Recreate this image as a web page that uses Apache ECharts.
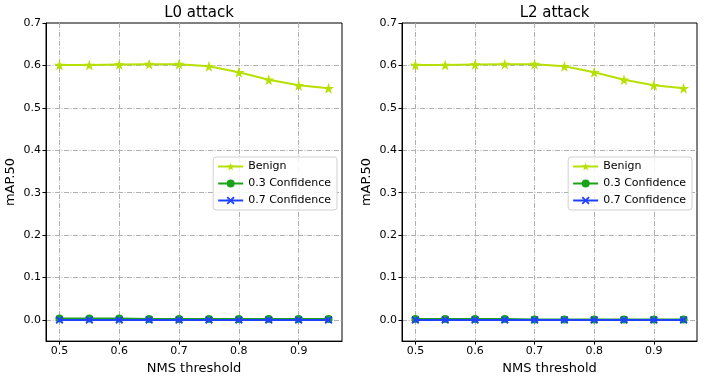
<!DOCTYPE html>
<html>
<head>
<meta charset="utf-8">
<script src="https://cdn.jsdelivr.net/npm/echarts@6/dist/echarts.min.js"></script>
<style>
  html, body { margin: 0; padding: 0; background: #fff; }
  #container { width: 706px; height: 380px; }
</style>
</head>
<body>
<div id="container"></div>
<script>
// NMS thresholds on the x axis
var thresholds = [0.5, 0.55, 0.6, 0.65, 0.7, 0.75, 0.8, 0.85, 0.9, 0.95];
var panelTitles = ['L0 attack', 'L2 attack'];
var seriesNames = ['Benign', '0.3 Confidence', '0.7 Confidence'];

// L0 attack
var l0Benign = [0.601, 0.601, 0.602, 0.603, 0.603, 0.598, 0.584, 0.566, 0.553, 0.546];
var l0Conf03 = [0.003, 0.003, 0.003, 0.002, 0.002, 0.002, 0.002, 0.002, 0.002, 0.002];
var l0Conf07 = [0, 0, 0, 0, 0, 0, 0, 0, 0, 0];

// L2 attack
var l2Benign = [0.601, 0.601, 0.602, 0.603, 0.603, 0.598, 0.584, 0.566, 0.553, 0.546];
var l2Conf03 = [0.002, 0.002, 0.002, 0.002, 0.001, 0.001, 0.001, 0.001, 0.001, 0.001];
var l2Conf07 = [0, 0, 0, 0, 0, 0, 0, 0, 0, 0];

var colors = ['#b5e000', '#1aa31a', '#2040ff'];
var starPath = 'path://M50,0 L61,35 98,35 68,57 79,91 50,70 21,91 32,57 2,35 39,35 Z';
var crossPath = 'path://M0,1.6 L1.6,0 5,3.4 8.4,0 10,1.6 6.6,5 10,8.4 8.4,10 5,6.6 1.6,10 0,8.4 3.4,5 Z';
var symbols = [starPath, 'circle', crossPath];
var symbolSizes = [11, 8, 8];

var font = 'DejaVu Sans';
var gridLine = { show: true, lineStyle: { color: '#b0b0b0', width: 1, type: [5, 1.5, 1, 1.5] } };

function pairs(vals){
	var out = [];
	for(var i=0; i<thresholds.length; i++){
		out.push([thresholds[i], vals[i]]);
	}
	return out;
}

var panels = [
	{ left: 46, right: 364, data: [l0Benign, l0Conf03, l0Conf07], legendRight: 369 },
	{ left: 402, right: 9, data: [l2Benign, l2Conf03, l2Conf07], legendRight: 14 }
];

var grids = [], xAxes = [], yAxes = [], series = [], titles = [], legends = [];
for(var p=0; p<panels.length; p++){
	var pn = panels[p];
	grids.push({ left: pn.left, right: pn.right, top: 23, bottom: 36, show: true, borderColor: '#000', borderWidth: 1, backgroundColor: 'transparent' });
	titles.push({
		text: panelTitles[p],
		left: pn.left + (706 - pn.left - pn.right) / 2,
		textAlign: 'center',
		top: 1,
		textStyle: { fontFamily: font, fontSize: 15, fontWeight: 'normal', color: '#000' }
	});
	xAxes.push({
		type: 'value', gridIndex: p,
		min: 0.4775, max: 0.9725, splitNumber: 5, minInterval: 0.1, maxInterval: 0.1,
		name: 'NMS threshold', nameLocation: 'middle', nameGap: 19,
		nameTextStyle: { fontFamily: font, fontSize: 13, color: '#000' },
		axisLine: { show: true, onZero: false, lineStyle: { color: '#000', width: 1 } },
		axisTick: { show: true, inside: false, length: 3.5, lineStyle: { color: '#000' } },
		axisLabel: { fontFamily: font, fontSize: 11, color: '#000', margin: 5, showMinLabel: false, showMaxLabel: false,
			formatter: function(v){ return v.toFixed(1); } },
		splitLine: Object.assign({ showMinLine: false, showMaxLine: false }, gridLine)
	});
	yAxes.push({
		type: 'value', gridIndex: p,
		min: -0.05, max: 0.7, splitNumber: 7, minInterval: 0.1, maxInterval: 0.1,
		name: 'mAP.50', nameLocation: 'middle', nameGap: 29,
		nameTextStyle: { fontFamily: font, fontSize: 13, color: '#000' },
		axisLine: { show: true, onZero: false, lineStyle: { color: '#000', width: 1 } },
		axisTick: { show: true, inside: false, length: 3.5, lineStyle: { color: '#000' } },
		axisLabel: { fontFamily: font, fontSize: 11, color: '#000', margin: 5, showMinLabel: false,
			formatter: function(v){ return v.toFixed(1); } },
		splitLine: Object.assign({ showMinLine: false, showMaxLine: false }, gridLine)
	});
	for(var s=0; s<seriesNames.length; s++){
		series.push({
			name: seriesNames[s], type: 'line',
			xAxisIndex: p, yAxisIndex: p,
			data: pairs(pn.data[s]),
			symbol: symbols[s], symbolSize: symbolSizes[s],
			showAllSymbol: true,
			lineStyle: { color: colors[s], width: 2 },
			itemStyle: { color: colors[s] },
			z: 3 + s,
			animation: false
		});
	}
	legends.push({
		data: seriesNames,
		right: pn.legendRight, top: 157,
		orient: 'vertical',
		itemWidth: 25, itemHeight: 10, itemGap: 6,
		padding: [4, 6, 4, 4],
		borderColor: '#d0d0d0', borderWidth: 1, borderRadius: 3,
		backgroundColor: 'rgba(255,255,255,0.85)',
		textStyle: { fontFamily: font, fontSize: 11, color: '#000' }
	});
}

var option = {
	animation: false,
	color: colors,
	title: titles,
	legend: legends,
	grid: grids,
	xAxis: xAxes,
	yAxis: yAxes,
	series: series
};
var myChart = echarts.init(document.getElementById('container'));
myChart.setOption(option);
</script>
</body>
</html>
